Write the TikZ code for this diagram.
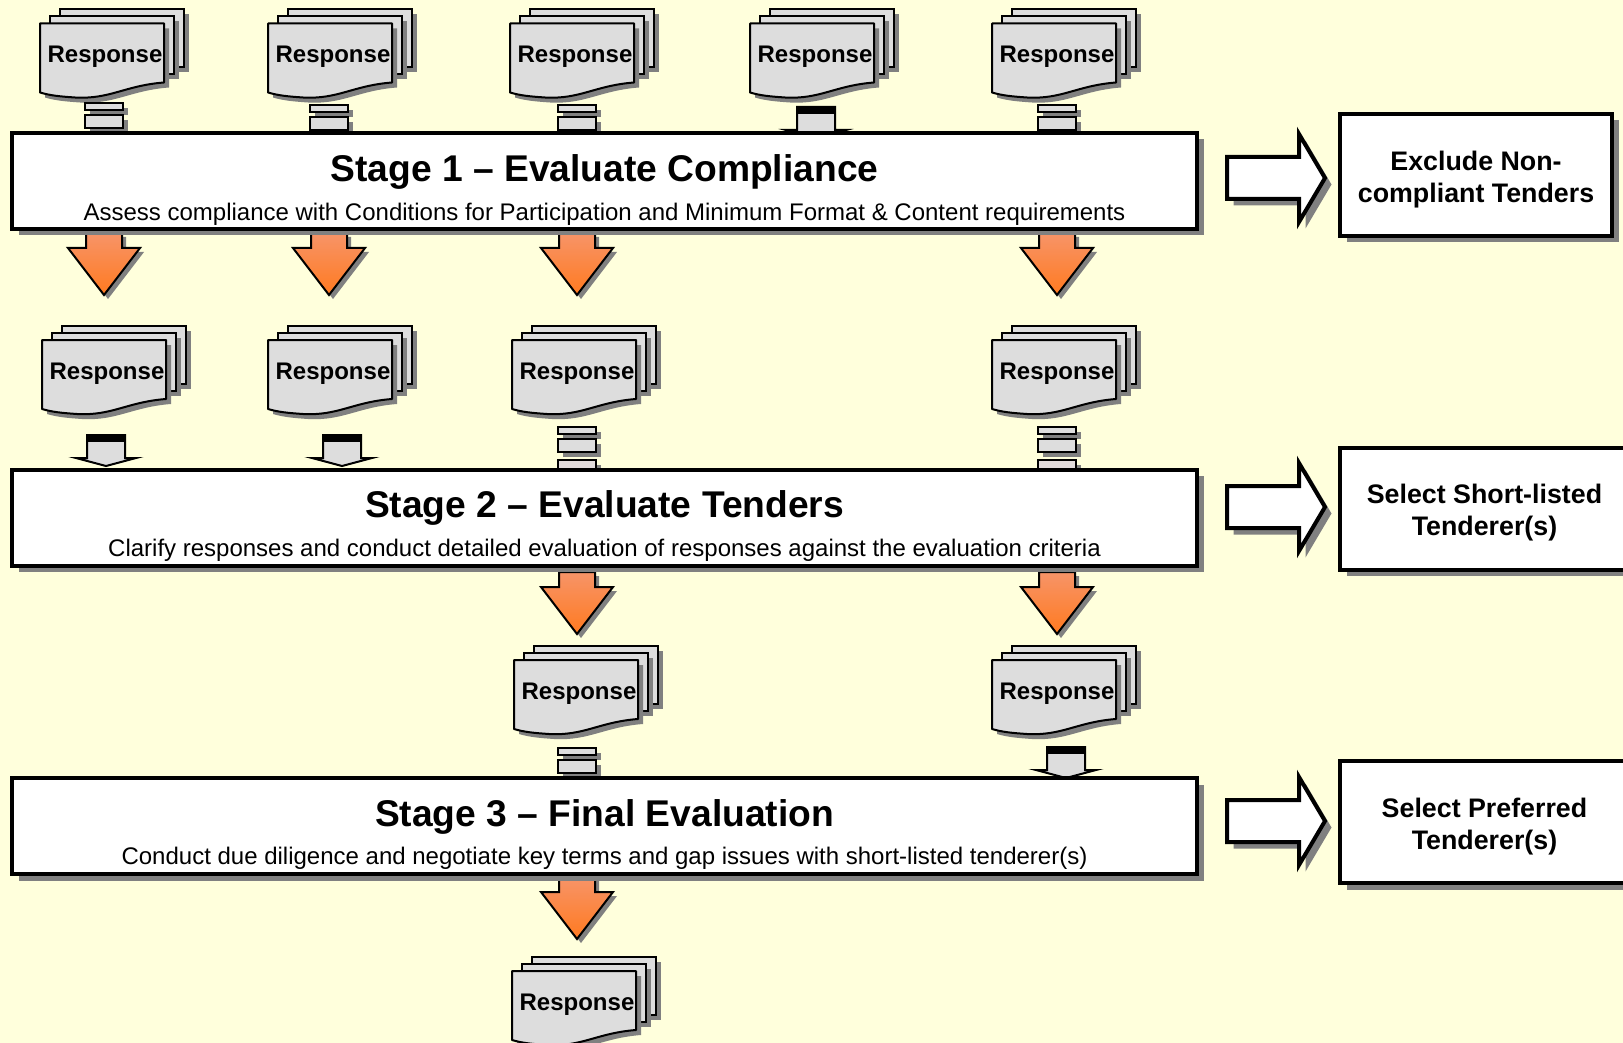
\documentclass[tikz,border=0pt]{standalone}
\usepackage{fontspec}
\setmainfont{Liberation Sans}
\usetikzlibrary{shadows}
\definecolor{paper}{HTML}{FFFFDC}
\definecolor{shade}{HTML}{808080}
\definecolor{sheet}{HTML}{DDDDDD}
\definecolor{sheetb}{HTML}{E2DCDC}
\definecolor{orangetop}{HTML}{F79468}
\definecolor{orangelow}{HTML}{FF7A20}
\tikzset{
  cast/.style={general shadow={fill=shade,shadow xshift=5pt,shadow yshift=-5pt}},
  heavycast/.style={general shadow={fill=shade,shadow xshift=6.5pt,shadow yshift=-6.5pt}},
  leaf/.style={draw,line width=2pt,fill=sheet,cast},
  stagebox/.style={draw,line width=4pt,fill=white,heavycast,minimum width=1185pt,minimum height=96pt,inner sep=0pt},
  outcome/.style={draw,line width=4pt,fill=white,heavycast,minimum height=122pt,inner sep=0pt},
  outtext/.style={inner sep=0pt,align=center,font=\bfseries\fontsize{26.8}{32}\selectfont},
  resptext/.style={anchor=base,inner sep=0pt,font=\bfseries\fontsize{24}{28}\selectfont},
  stagetitle/.style={anchor=base,inner sep=0pt,font=\bfseries\fontsize{37.2}{44}\selectfont},
  stagesub/.style={anchor=base,inner sep=0pt,font=\fontsize{24}{30}\selectfont},
  respstack/.pic={
    \path[leaf] (20,0) rectangle (144,58);
    \path[leaf] (10,7) rectangle (134,65);
    \path[leaf,line join=round] (0,14) -- (124,14) -- (124,73)
      .. controls (85,76) and (70,90) .. (35,88)
      .. controls (20,87) and (10,86) .. (0,83) -- cycle;
  },
  downarrow/.pic={
    \path[draw,line width=2pt,line join=miter,top color=orangetop,bottom color=orangelow,
      general shadow={fill=shade,shadow xshift=4pt,shadow yshift=-4pt}]
      (-18,0) -- (-18,15) -- (-36,15) -- (0,62) -- (36,15) -- (18,15) -- (18,0) -- cycle;
  },
  stubarrow/.pic={
    \path[draw,line width=2pt,fill=sheet] (-19,0) -- (19,0) -- (19,23) -- (30,23) -- (0,31) -- (-30,23) -- (-19,23) -- cycle;
    \fill (-19,0) rectangle (19,7);
  },
  barpair/.pic={
    \path[leaf] (-19,0) rectangle (19,7);
    \path[leaf] (-19,12) rectangle (19,25);
  },
  whitearrow/.pic={
    \path[draw,line width=4pt,fill=white,heavycast] (0,-21) -- (72,-21) -- (72,-44) -- (98,0)
      -- (72,44) -- (72,21) -- (0,21) -- cycle;
  }
}

\begin{document}
\begin{tikzpicture}
  [x=1pt,y=-1pt]
  \useasboundingbox (0,0) rectangle (1623,1043);
  \clip (0,0) rectangle (1623,1043);
  \fill[paper] (0,0) rectangle (1623,1043);

  % responses
  \foreach \n/\x/\y in {a/40/9.5,b/268/9.5,c/510/9.5,d/750/9.5,e/992/9.5,
                        f/42/326,g/268/326,h/512/326,i/992/326,
                        j/514/646,k/992/646,
                        l/512/957}
  {
    \pic at (\x,\y) {respstack};
    \node[resptext] (resp\n) at (\x+65,\y+53) {Response};
  }

  % what goes in
  \foreach \x/\y in {104/103,328.5/105,576.5/105,1057/105,576.5/427,1057/427,576.5/748}
    \pic at (\x,\y) {barpair};
  \foreach \x/\y in {576.5/460,1057/460}
    \path[leaf,fill=sheetb] (\x-19,\y) rectangle (\x+19,\y+20);
  \foreach \x/\y in {816/107,106/435,342/435,1066/747}
    \pic at (\x,\y) {stubarrow};

  % what comes out
  \foreach \x/\y in {104/233,329/233,577/233,1057/233,577/572,1057/572,577/877}
    \pic at (\x,\y) {downarrow};

  % stages
  \foreach \n/\y/\ya/\yb/\head/\body in {
    1/181/181.5/220.5/{Stage 1 – Evaluate Compliance}/{Assess compliance with Conditions for Participation and Minimum Format \& Content requirements},
    2/517.5/517.5/556.5/{Stage 2 – Evaluate Tenders}/{Clarify responses and conduct detailed evaluation of responses against the evaluation criteria},
    3/826/826/864/{Stage 3 – Final Evaluation}/{Conduct due diligence and negotiate key terms and gap issues with short-listed tenderer(s)}}
  {
    \node[stagebox] (stage\n) at (604.5,\y) {};
    \node[stagetitle] (title\n) at (604.5,\ya) {\head};
    \node[stagesub] (sub\n) at (604.5,\yb) {\body};
  }

  \foreach \y in {178,507,821}
    \pic at (1227,\y) {whitearrow};

  \node[outcome,minimum width=272pt] (exclude) at (1476,175) {};
  \node[outtext] (excludetext) at (1476,180) {Exclude Non-\\compliant Tenders};
  \node[outcome,minimum width=288pt] (short) at (1484,508.5) {};
  \node[outtext] (shorttext) at (1484.5,513) {Select Short-listed\\Tenderer(s)};
  \node[outcome,minimum width=288pt] (prefer) at (1484,822) {};
  \node[outtext] (prefertext) at (1484.5,826.5) {Select Preferred\\Tenderer(s)};

\end{tikzpicture}
\end{document}
